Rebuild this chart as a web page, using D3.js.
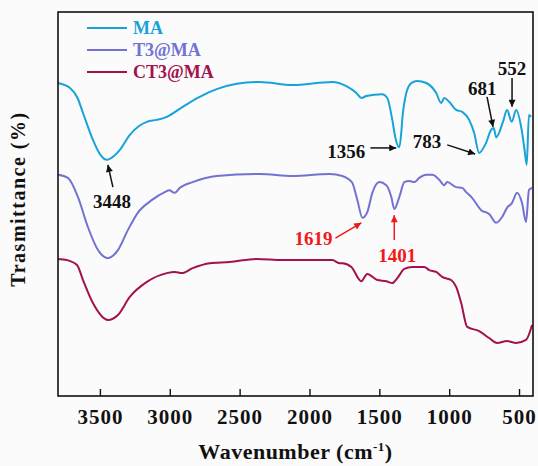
<!DOCTYPE html>
<html lang="en">
<meta charset="UTF-8">
<title>FTIR spectra</title>
<script src="https://d3js.org/d3.v7.min.js"></script>
<style>
  body { margin: 0; background: #fbfbfb; }
  svg text { font-family: "Liberation Serif", "Times New Roman", serif; font-weight: bold; }
</style>
<body>
<svg id="canvas"></svg>
<script>
// series: [wavenumber, transmittance]
let maData = [
  [3800, 81.5], [3714, 80.2], [3660, 77.6], [3621, 73.7], [3550, 66.7], [3500, 63.0], [3450, 61.5],
  [3400, 62.5], [3357, 64.1], [3286, 68.0], [3220, 70.3], [3164, 71.4], [3093, 71.9], [3021, 72.7],
  [2907, 75.3], [2786, 77.9], [2664, 79.9], [2521, 81.3], [2357, 81.8], [2121, 81.0], [1836, 81.8],
  [1736, 80.7], [1664, 78.9], [1629, 77.6], [1593, 78.1], [1479, 78.6], [1443, 77.6], [1407, 71.9],
  [1386, 67.4], [1357, 64.8], [1343, 68.5], [1336, 71.9], [1307, 78.9], [1271, 81.5], [1229, 82.0],
  [1164, 81.5], [1093, 78.9], [1057, 76.3], [1036, 77.6], [1000, 76.6], [950, 74.5], [907, 74.0],
  [857, 71.9], [821, 68.5], [786, 63.3], [736, 65.9], [700, 69.3], [681, 69.8], [664, 67.4],
  [614, 71.5], [586, 74.5], [552, 71.4], [521, 74.5], [481, 69.3], [460, 64.0], [445, 60.2],
  [429, 73.2], [414, 72.7]
]
let t3Data = [
  [3800, 57.6], [3729, 56.8], [3657, 51.8], [3586, 44.0], [3514, 38.0], [3443, 35.9], [3371, 38.0],
  [3300, 43.2], [3229, 47.7], [3129, 51.0], [3036, 53.1], [3000, 53.6], [2979, 53.1], [2964, 52.9],
  [2929, 54.2], [2836, 55.7], [2664, 57.3], [2357, 57.8], [2121, 57.3], [1857, 57.8], [1764, 57.3],
  [1714, 56.3], [1693, 55.5], [1657, 51.0], [1621, 46.4], [1586, 47.9], [1550, 52.9], [1500, 55.7],
  [1450, 54.9], [1414, 51.8], [1393, 48.7], [1357, 51.8], [1321, 55.7], [1286, 56.0], [1250, 55.7],
  [1214, 56.8], [1164, 57.6], [1121, 57.6], [1071, 56.3], [1036, 54.9], [1014, 55.7], [950, 54.4],
  [907, 54.2], [879, 53.1], [836, 51.6], [771, 48.4], [714, 47.4], [664, 45.1], [621, 46.6],
  [586, 49.0], [550, 50.3], [514, 52.9], [479, 50.3], [450, 45.3], [429, 53.6], [407, 54.2]
]
let ct3Data = [
  [3800, 35.7], [3736, 35.4], [3664, 34.1], [3621, 30.2], [3550, 24.2], [3443, 19.8], [3371, 21.1],
  [3286, 25.8], [3164, 29.7], [3021, 32.0], [2964, 32.3], [2914, 32.0], [2836, 33.3], [2714, 34.6],
  [2571, 34.9], [2379, 35.7], [2193, 35.4], [1979, 35.4], [1836, 35.4], [1786, 34.6], [1764, 34.6],
  [1700, 33.6], [1629, 29.9], [1586, 31.8], [1514, 30.2], [1450, 29.9], [1407, 29.4], [1371, 30.7],
  [1321, 33.1], [1264, 33.6], [1179, 33.6], [1143, 32.8], [1093, 32.3], [1050, 31.0], [986, 30.2],
  [950, 28.4], [914, 24.2], [871, 18.0], [786, 16.9], [714, 15.1], [657, 13.8], [586, 14.3],
  [521, 13.8], [450, 14.6], [407, 18.5]
]

let seriesNames = ['MA', 'T3@MA', 'CT3@MA']
let seriesColors = ['#17a3da', '#7272d2', '#a3114e']
let xTicks = [3500, 3000, 2500, 2000, 1500, 1000, 500]

// peak labels: tip / tail of arrow and text spot, all in [wavenumber, transmittance]
let peakLabels = ['3448', '1356', '783', '681', '552', '1619', '1401']
let peakTips = [[3443, 60.2], [1379, 64.6], [814, 63.0], [686, 70.1], [550, 75.3], [1629, 45.1], [1393, 47.1]]
let peakTails = [[3407, 54.4], [1564, 64.6], [1014, 65.4], [729, 77.9], [550, 82.8], [1814, 41.1], [1393, 40.6]]
let peakText = [[3414, 49.0], [1600, 62.0], [1057, 64.6], [764, 78.4], [550, 83.6], [1836, 39.3], [1371, 34.9]]
let peakAnchor = ['middle', 'end', 'end', 'middle', 'middle', 'end', 'middle']
let peakRed = [false, false, false, false, false, true, true]

let width = 538
let height = 466
let mLeft = 58, mRight = 533, mTop = 12, mBottom = 396

let canvas = d3.select('#canvas').attr('width', width).attr('height', height)

let xScale = d3.scaleLinear().domain([3800, 400]).range([mLeft, mRight])
let yScale = d3.scaleLinear().domain([0, 100]).range([mBottom, mTop])

let line = d3.line()
  .x(d => xScale(d[0]))
  .y(d => yScale(d[1]))
  .curve(d3.curveMonotoneX)

// arrow heads
let defs = canvas.append('defs')
;[['arrBlack', '#111'], ['arrRed', '#f01818']].forEach(([id, c]) => {
  defs.append('marker')
    .attr('id', id)
    .attr('viewBox', '0 0 10 10')
    .attr('refX', 10).attr('refY', 5)
    .attr('markerWidth', 9).attr('markerHeight', 7)
    .attr('markerUnits', 'userSpaceOnUse')
    .attr('orient', 'auto')
    .append('path')
    .attr('d', 'M0,0 L10,5 L0,10 Z')
    .attr('fill', c)
})

// curves
;[maData, t3Data, ct3Data].forEach((s, i) => {
  canvas.append('path')
    .datum(s)
    .attr('d', line)
    .attr('fill', 'none')
    .attr('stroke', seriesColors[i])
    .attr('stroke-width', 2)
})

// frame
canvas.append('rect')
  .attr('x', mLeft).attr('y', mTop)
  .attr('width', mRight - mLeft).attr('height', mBottom - mTop)
  .attr('fill', 'none').attr('stroke', '#111').attr('stroke-width', 1.6)

// x axis, ticks inward
let xAxis = d3.axisBottom(xScale)
  .tickValues(xTicks)
  .tickFormat(d3.format('d'))
  .tickSizeInner(-7).tickSizeOuter(0)
let gx = canvas.append('g')
  .attr('transform', 'translate(0,' + mBottom + ')')
  .call(xAxis)
gx.select('.domain').remove()
gx.selectAll('.tick line').attr('stroke', '#111').attr('stroke-width', 1.4)
gx.selectAll('.tick text')
  .attr('y', 28).attr('dy', 0)
  .attr('fill', '#111')
  .style('font-size', '21px')
  .style('letter-spacing', '1px')
  .style('font-family', '"Liberation Serif", serif')

// axis titles
let xt = canvas.append('text')
  .attr('x', (mLeft + mRight) / 2).attr('y', 459)
  .attr('text-anchor', 'middle')
  .attr('fill', '#111')
  .style('font-size', '22px')
  .style('letter-spacing', '0.5px')
xt.append('tspan').text('Wavenumber (cm')
xt.append('tspan').text('-1').attr('dy', -8).style('font-size', '13px')
xt.append('tspan').text(')').attr('dy', 8)

canvas.append('text')
  .attr('transform', 'translate(25,' + 199 + ') rotate(-90)')
  .attr('text-anchor', 'middle')
  .attr('fill', '#111')
  .style('font-size', '20px')
  .style('letter-spacing', '1.5px')
  .text('Trasmittance (%)')

// legend
seriesNames.forEach((name, i) => {
  let ly = 28 + i * 22
  canvas.append('line')
    .attr('x1', 87).attr('x2', 127)
    .attr('y1', ly).attr('y2', ly)
    .attr('stroke', seriesColors[i]).attr('stroke-width', 2)
  canvas.append('text')
    .attr('x', 133).attr('y', ly + 6)
    .attr('fill', seriesColors[i])
    .style('font-size', '18px')
    .text(name)
})

// peak annotations
peakLabels.forEach((lab, i) => {
  let c = peakRed[i] ? '#f01818' : '#111'
  canvas.append('line')
    .attr('x1', xScale(peakTails[i][0])).attr('y1', yScale(peakTails[i][1]))
    .attr('x2', xScale(peakTips[i][0])).attr('y2', yScale(peakTips[i][1]))
    .attr('stroke', c).attr('stroke-width', 1.5)
    .attr('marker-end', peakRed[i] ? 'url(#arrRed)' : 'url(#arrBlack)')
  canvas.append('text')
    .attr('x', xScale(peakText[i][0])).attr('y', yScale(peakText[i][1]))
    .attr('text-anchor', peakAnchor[i])
    .attr('fill', c)
    .style('font-size', '19px')
    .text(lab)
})
</script>
</body>
</html>
